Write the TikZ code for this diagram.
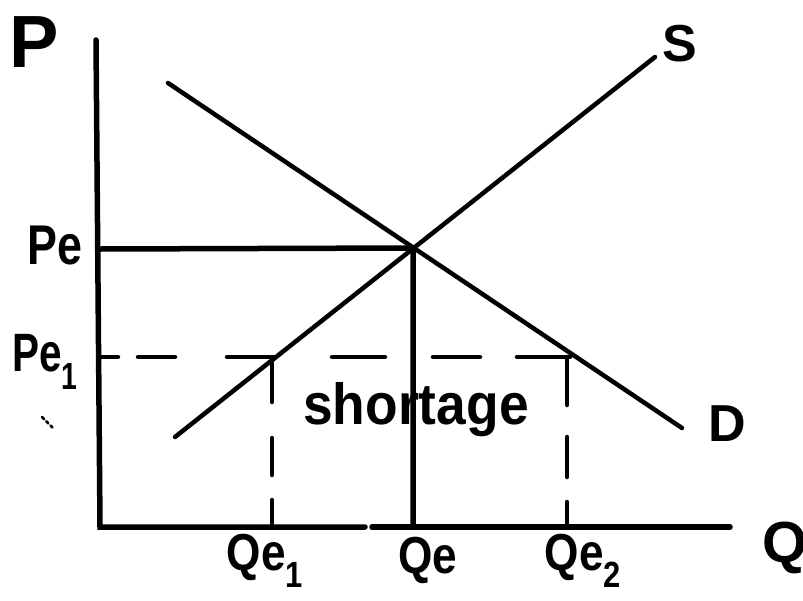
\documentclass[tikz,border=0pt]{standalone}
\usepackage{fontspec}
\setmainfont{Liberation Sans}
\begin{document}
\begin{tikzpicture}[x=1pt,y=-1pt,
  ink/.style={line width=5.5pt,line cap=round,black},
  thin ink/.style={line width=4.5pt,line cap=round,black},
  lbl/.style={inner sep=0pt,font=\bfseries\fontsize{#1}{#1}\selectfont},
  lbl/.default=52]
\useasboundingbox[fill=white] (0,0) rectangle (803,600);
% key points
\coordinate (yTop) at (96,40);
\coordinate (O) at (100,527);
\coordinate (gapL) at (365,527);
\coordinate (gapR) at (372,527);
\coordinate (xEnd) at (730,527);
\coordinate (D1) at (168,83);
\coordinate (D2) at (682,428);
\coordinate (S1) at (175,437);
\coordinate (S2) at (655,57);
\coordinate (E) at (413,248);
\coordinate (PeY) at (100,249);
\coordinate (QeX) at (413,527);
% axes
\draw[ink] (yTop) -- (O) -- (gapL);
\draw[ink] (gapR) -- (xEnd);
% supply and demand
\draw[thin ink] (S1) -- (S2);
\draw[thin ink] (D1) -- (D2);
% equilibrium lines
\draw[ink] (PeY) -- (E) -- (QeX);
% dashed Pe1 line
\foreach \a/\b in {100/118,138/175,227/275,332/385,433/480,517/570}
  \draw[thin ink] (\a,357) -- (\b,357);
% dashed verticals
\foreach \a/\b in {357/402,438/475,500/527}
  \draw[thin ink] (272,\a) -- (272,\b);
\foreach \a/\b in {357/405,437/477,502/527}
  \draw[thin ink] (567,\a) -- (567,\b);
% stray mark
\draw[line width=2.5pt,line cap=round,dash pattern=on 3pt off 3pt] (42,417) -- (53,428);
% labels
\node[lbl=74] (Plbl) at (34,42) {P};
\node[lbl=52] (Slbl) at (680,44) {S};
\node[lbl=52] (Dlbl) at (727,424) {D};
\node[lbl=56] (Pelbl) at (55,246) {\scalebox{0.8}[1]{Pe}};
\node[lbl=54,anchor=west] (Pe1lbl) at (12,362) {\scalebox{0.75}[1]{Pe\textsubscript{1}}};
\node[lbl=58] (short) at (416,410) {\scalebox{0.92}[1]{shortage}};
\node[lbl=52] (Qe1lbl) at (265,561) {\scalebox{0.85}[1]{Qe\textsubscript{1}}};
\node[lbl=52] (Qelbl) at (428,560) {\scalebox{0.85}[1]{Qe}};
\node[lbl=52] (Qe2lbl) at (583,561) {\scalebox{0.85}[1]{Qe\textsubscript{2}}};
\node[lbl=58,anchor=west] (Qlbl) at (762,548) {Q};
\end{tikzpicture}
\end{document}
